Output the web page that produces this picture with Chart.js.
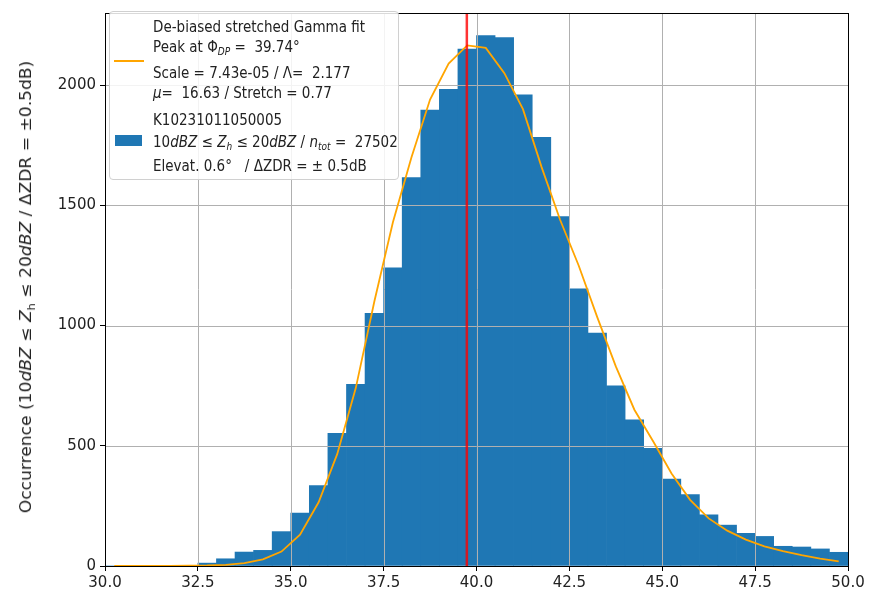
<!DOCTYPE html>
<html>
<head>
<meta charset="utf-8">
<script src="https://cdn.jsdelivr.net/npm/chart.js@4.4.1/dist/chart.umd.min.js"></script>
<style>
  html, body { margin: 0; padding: 0; background: #fff; }
  #wrap { position: relative; width: 883px; height: 595px; font-family: "DejaVu Sans", sans-serif; color: #222; }
  #yTitle { position: absolute; left: 27px; top: 287px; transform: translate(-50%, -50%) rotate(-90deg) scaleX(1.14);
            white-space: nowrap; font-size: 15px; }
  #legendBox { position: absolute; left: 109px; top: 11px; width: 290px; height: 169px; box-sizing: border-box;
               border: 1px solid #d0d0d0; border-radius: 4px; background: rgba(255,255,255,0.85); font-size: 13.5px; }
  #legendBox .ln { position: absolute; left: 43px; white-space: nowrap; line-height: 16px;
                   transform: scaleY(1.15); transform-origin: left center; }
  #legendBox sub { font-size: 9px; font-style: italic; vertical-align: -3px; line-height: 0; }
  .handleLine { position: absolute; left: 4px; width: 30px; height: 2px; background: #FFA500; }
  .handlePatch { position: absolute; left: 5px; width: 27px; height: 11px; background: #1f77b4; }
</style>
</head>
<body>
<div id="wrap">
  <canvas id="histChart" width="883" height="595"></canvas>
  <div id="yTitle">Occurrence (10<i>dBZ</i> ≤ <i>Z</i><sub style="font-size:10px">h</sub> ≤ 20<i>dBZ</i> / ΔZDR = ±0.5dB)</div>
  <div id="legendBox">
    <div class="handleLine" style="top:48px"></div>
    <div class="ln" style="top:6px">De-biased stretched Gamma fit</div>
    <div class="ln" style="top:26px">Peak at Φ<sub>DP</sub> = &nbsp;<span id="peakText"></span>°</div>
    <div class="ln" style="top:52px">Scale = 7.43e-05 / Λ= &nbsp;2.177</div>
    <div class="ln" style="top:72px"><i>μ</i>= &nbsp;16.63 / Stretch = 0.77</div>
    <div class="handlePatch" style="top:123px"></div>
    <div class="ln" style="top:99px">K10231011050005</div>
    <div class="ln" style="top:121px">10<i>dBZ</i> ≤ <i>Z</i><sub>h</sub> ≤ 20<i>dBZ</i> / <i>n</i><sub>tot</sub> = &nbsp;27502</div>
    <div class="ln" style="top:145px">Elevat. 0.6° &nbsp;&nbsp;/ ΔZDR = ± 0.5dB</div>
  </div>
</div>
<script>
// histogram bins (centres of 0.5 wide bins between 30 and 50)
const binCenters = [30.25, 30.75, 31.25, 31.75, 32.25, 32.75, 33.25, 33.75, 34.25, 34.75,
                    35.25, 35.75, 36.25, 36.75, 37.25, 37.75, 38.25, 38.75, 39.25, 39.75,
                    40.25, 40.75, 41.25, 41.75, 42.25, 42.75, 43.25, 43.75, 44.25, 44.75,
                    45.25, 45.75, 46.25, 46.75, 47.25, 47.75, 48.25, 48.75, 49.25, 49.75];
const counts = [0, 0, 0, 0, 0, 12, 30, 58, 65, 143,
                220, 334, 552, 756, 1051, 1240, 1615, 1896, 1983, 2150,
                2206, 2198, 1960, 1783, 1453, 1153, 969, 749, 608, 489,
                361, 297, 213, 170, 136, 123, 82, 79, 71, 57];
// fitted gamma curve evaluated at the bin centres
const gammaFit = [0, 0, 0, 0, 1, 2, 5, 12, 28, 60,
                  130, 265, 465, 740, 1100, 1430, 1700, 1940, 2090, 2165,
                  2155, 2050, 1900, 1660, 1440, 1250, 1035, 830, 650, 520,
                  385, 275, 198, 147, 110, 82, 62, 45, 31, 19];
const peakPhiDP = 39.74;
const xTicks = [30, 32.5, 35, 37.5, 40, 42.5, 45, 47.5, 50];
const yTicks = [0, 500, 1000, 1500, 2000];

document.getElementById('peakText').textContent = peakPhiDP.toFixed(2);

// grid lines go over the bars but under the lines
const gridOverBars = {
  id: 'gridOverBars',
  afterDatasetDraw(chart, args) {
    if (args.index !== 0) return;
    const {ctx, chartArea: a, scales: {x, y}} = chart;
    ctx.save();
    ctx.strokeStyle = '#b0b0b0';
    ctx.lineWidth = 1;
    ctx.beginPath();
    xTicks.forEach(v => {
      const px = Math.round(x.getPixelForValue(v)) + 0.5;
      ctx.moveTo(px, a.top); ctx.lineTo(px, a.bottom);
    });
    yTicks.forEach(v => {
      const py = Math.round(y.getPixelForValue(v)) + 0.5;
      ctx.moveTo(a.left, py); ctx.lineTo(a.right, py);
    });
    ctx.stroke();
    ctx.restore();
  }
};

// black frame round the plot area
const frame = {
  id: 'frame',
  afterDraw(chart) {
    const {ctx, chartArea: a} = chart;
    ctx.save();
    ctx.strokeStyle = '#000';
    ctx.lineWidth = 1;
    ctx.strokeRect(Math.round(a.left) + 0.5, Math.round(a.top) + 0.5,
                   Math.round(a.right - a.left), Math.round(a.bottom - a.top));
    ctx.restore();
  }
};

const ctx = document.getElementById('histChart').getContext('2d');
const myChart = new Chart(ctx, {
  type: 'bar',
  data: {
    datasets: [
      {
        label: 'hist',
        data: binCenters.map((c, i) => ({x: c, y: counts[i]})),
        backgroundColor: '#1f77b4',
        borderWidth: 0,
        barPercentage: 1,
        categoryPercentage: 1,
        order: 3
      },
      {
        type: 'line',
        label: 'fit',
        data: binCenters.map((c, i) => ({x: c, y: gammaFit[i]})),
        borderColor: '#FFA500',
        borderWidth: 1.8,
        pointRadius: 0,
        tension: 0,
        order: 2
      },
      {
        type: 'line',
        label: 'peak',
        data: [{x: peakPhiDP, y: 0}, {x: peakPhiDP, y: 2300}],
        borderColor: 'rgba(255,0,0,0.8)',
        borderWidth: 2.5,
        pointRadius: 0,
        order: 1
      }
    ]
  },
  options: {
    responsive: false,
    animation: false,
    layout: { padding: { left: 0, right: 35, top: 4, bottom: 0 } },
    plugins: { legend: { display: false }, tooltip: { enabled: false } },
    scales: {
      x: {
        type: 'linear',
        min: 30,
        max: 50,
        offset: false,
        grid: { offset: false, drawOnChartArea: false, drawTicks: true, tickLength: 5, tickColor: '#000' },
        border: { display: false },
        afterBuildTicks: s => { s.ticks = xTicks.map(v => ({value: v})); },
        afterFit: s => { s.height = 29; },
        ticks: {
          color: '#222',
          padding: 3,
          maxRotation: 0,
          font: { family: 'DejaVu Sans', size: 15 },
          callback: v => Number(v).toFixed(1)
        }
      },
      y: {
        min: 0,
        max: 2300,
        grid: { drawOnChartArea: false, drawTicks: true, tickLength: 5, tickColor: '#000' },
        border: { display: false },
        afterBuildTicks: s => { s.ticks = yTicks.map(v => ({value: v})); },
        afterFit: s => { s.width = 105; },
        ticks: {
          color: '#222',
          padding: 4,
          font: { family: 'DejaVu Sans', size: 15 },
          callback: v => String(v)
        }
      }
    }
  },
  plugins: [gridOverBars, frame]
});
</script>
</body>
</html>
